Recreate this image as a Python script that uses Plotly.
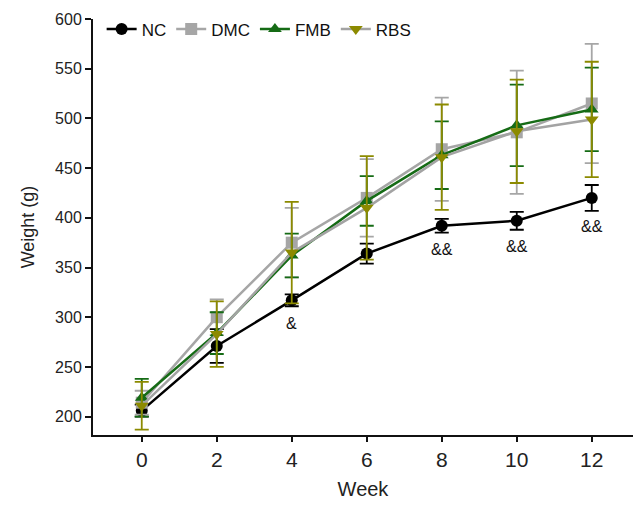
import plotly.graph_objects as go

weeks = [0, 2, 4, 6, 8, 10, 12]

nc_mean = [206, 271, 317, 364, 392, 397, 420]
nc_err = [6, 17, 6, 10, 7, 9, 13]

dmc_mean = [214, 300, 375, 420, 469, 486, 515]
dmc_err = [12, 18, 35, 39, 52, 62, 60]

fmb_mean = [219, 284, 362, 417, 463, 493, 509]
fmb_err = [19, 21, 22, 25, 34, 41, 42]

rbs_mean = [211, 283, 365, 410, 461, 487, 499]
rbs_err = [24, 33, 51, 52, 53, 52, 58]

sig_weeks = [4, 8, 10, 12]
sig_labels = ["&", "&&", "&&", "&&"]
sig_y = [294, 368, 371, 391]

FONT = "Liberation Sans, Arial, sans-serif"

series = [
    ("NC", nc_mean, nc_err, "#000000", "#000000", "#000000", "circle"),
    ("DMC", dmc_mean, dmc_err, "#a6a6a6", "#a6a6a6", "#a6a6a6", "square"),
    ("FMB", fmb_mean, fmb_err, "#156b15", "#156b15", "#156b15", "triangle-up"),
    ("RBS", rbs_mean, rbs_err, "#a3a3a3", "#8c8a00", "#8c8a00", "triangle-down"),
]

fig = go.Figure()
for name, m, e, lc, mc, ec, sym in series:
    fig.add_trace(go.Scatter(
        x=weeks, y=m, name=name, mode="lines+markers",
        line=dict(color=lc, width=2.5),
        marker=dict(color=mc, symbol=sym, size=12),
        error_y=dict(type="data", array=e, visible=True, color=ec,
                     thickness=1.8, width=7),
    ))

for wx, lab, yy in zip(sig_weeks, sig_labels, sig_y):
    fig.add_annotation(x=wx, y=yy, text=lab, showarrow=False,
                       font=dict(family=FONT, size=16, color="#111111"))

fig.update_layout(
    width=633, height=506,
    margin=dict(l=93, r=0, t=19, b=71),
    paper_bgcolor="white", plot_bgcolor="white",
    font=dict(family=FONT, color="#222222"),
    showlegend=True,
    legend=dict(orientation="h", x=0.016, y=0.975, xanchor="left", yanchor="middle",
                font=dict(family=FONT, size=17, color="#111111"),
                bgcolor="rgba(0,0,0,0)", itemwidth=30, traceorder="normal"),
    xaxis=dict(range=[-1.3, 13.1], tickmode="array", tickvals=weeks,
               showline=True, linecolor="#111111", linewidth=2,
               ticks="outside", ticklen=5, tickwidth=2, tickcolor="#111111",
               showgrid=False, zeroline=False,
               tickfont=dict(family=FONT, size=21, color="#222222"),
               title=dict(text="Week", font=dict(family=FONT, size=20, color="#222222"),
                          standoff=12)),
    yaxis=dict(range=[181.5, 600], tickmode="array",
               tickvals=[200, 250, 300, 350, 400, 450, 500, 550, 600],
               showline=True, linecolor="#111111", linewidth=2,
               ticks="outside", ticklen=6, tickwidth=2, tickcolor="#111111",
               showgrid=False, zeroline=False,
               tickfont=dict(family=FONT, size=16, color="#222222"),
               title=dict(text="Weight (g)", font=dict(family=FONT, size=18, color="#222222"),
                          standoff=16)),
)

fig.write_html("out.html")
